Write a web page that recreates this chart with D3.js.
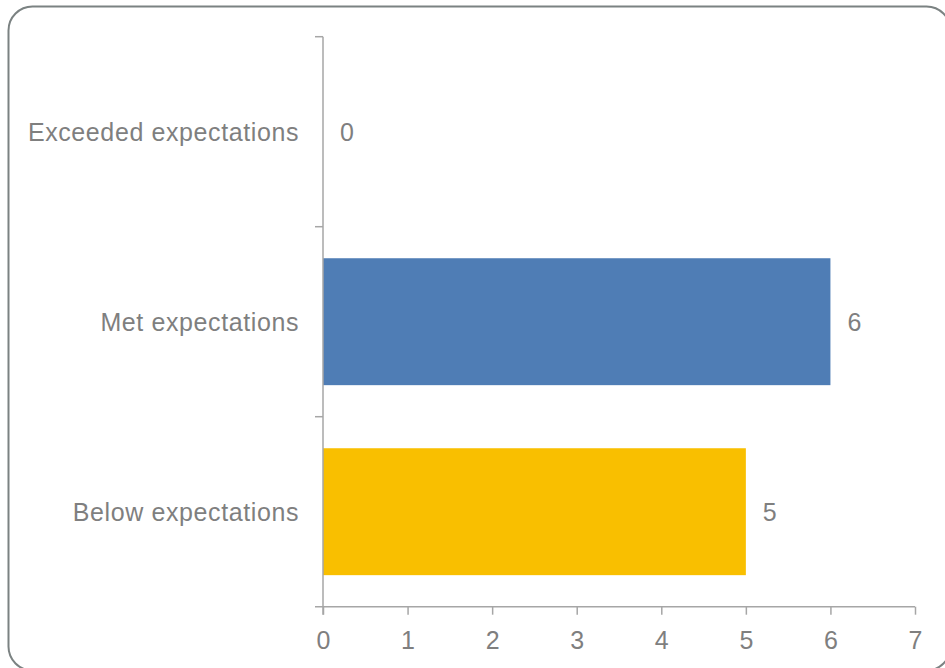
<!DOCTYPE html>
<html>
<head>
<meta charset="utf-8">
<script src="https://cdn.jsdelivr.net/npm/d3@7"></script>
<style>
html,body{margin:0;padding:0;background:#fff;}
svg{display:block;font-family:"Liberation Sans",Arial,sans-serif;}
</style>
</head>
<body>
<svg id="chart" width="945" height="668"></svg>
<script>
const categories = ["Exceeded expectations", "Met expectations", "Below expectations"];
const values = [0, 6, 5];
const barColors = ["#4f7db5", "#4f7db5", "#f9bf00"];
const xTicks = [0, 1, 2, 3, 4, 5, 6, 7];

(function () {
const svg = d3.select("#chart");

// outer rounded frame (extends past the right and bottom edges)
svg.append("rect")
  .attr("x", 8.5).attr("y", 6.5)
  .attr("width", 942).attr("height", 664)
  .attr("rx", 24).attr("ry", 24)
  .attr("fill", "none")
  .attr("stroke", "#7b8282")
  .attr("stroke-width", 2);

const pLeft = 323, pRight = 915, pTop = 36.7, pBottom = 606.7;
const x = d3.scaleLinear().domain([0, 7]).range([pLeft, pRight]);
const y = d3.scaleBand().domain(categories).range([pTop, pBottom]).paddingInner(0.332).paddingOuter(0.166);

const textColor = "#7f7f7f";
const axisColor = "#a6a6a6";
const fs = 25;

// bars
svg.selectAll("rect.bar").data(categories).enter().append("rect")
  .attr("class", "bar")
  .attr("x", x(0))
  .attr("y", d => y(d))
  .attr("width", (d, i) => x(values[i]) - x(0))
  .attr("height", y.bandwidth())
  .attr("fill", (d, i) => barColors[i]);

// x axis
const xAxis = svg.append("g").attr("transform", `translate(0,${pBottom})`)
  .call(d3.axisBottom(x).tickValues(xTicks).tickSize(8).tickPadding(17).tickFormat(d3.format("d")));
xAxis.select(".domain").attr("stroke", axisColor).attr("stroke-width", 1.5)
  .attr("d", `M${pLeft - 8},0H${pRight}`);
xAxis.selectAll(".tick line").attr("stroke", axisColor).attr("stroke-width", 1.5);
xAxis.selectAll(".tick text").attr("fill", textColor).attr("font-size", fs)
  .attr("font-family", "Liberation Sans, Arial, sans-serif");

// y axis (category boundary ticks)
const yLine = svg.append("g");
yLine.append("line").attr("x1", pLeft).attr("x2", pLeft).attr("y1", pTop).attr("y2", pBottom + 8)
  .attr("stroke", axisColor).attr("stroke-width", 1.5);
const step = (pBottom - pTop) / categories.length;
const boundaries = d3.range(categories.length).map(i => pTop + i * step);
yLine.selectAll("line.yt").data(boundaries).enter().append("line")
  .attr("class", "yt")
  .attr("x1", pLeft - 8).attr("x2", pLeft)
  .attr("y1", d => d).attr("y2", d => d)
  .attr("stroke", axisColor).attr("stroke-width", 1.5);

// category labels
svg.selectAll("text.cat").data(categories).enter().append("text")
  .attr("class", "cat")
  .attr("x", pLeft - 24)
  .attr("y", d => y(d) + y.bandwidth() / 2 + 9)
  .attr("text-anchor", "end")
  .attr("font-size", fs)
  .attr("letter-spacing", 0.6)
  .attr("fill", textColor)
  .text(d => d);

// value labels
svg.selectAll("text.val").data(categories).enter().append("text")
  .attr("class", "val")
  .attr("x", (d, i) => x(values[i]) + 17)
  .attr("y", d => y(d) + y.bandwidth() / 2 + 9)
  .attr("font-size", fs)
  .attr("fill", textColor)
  .text((d, i) => values[i]);
})();
</script>
</body>
</html>
